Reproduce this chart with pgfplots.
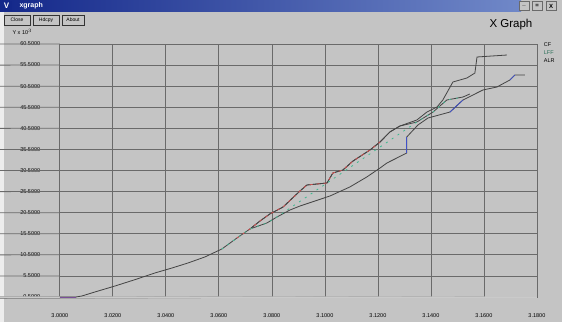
\documentclass[border=0pt]{standalone}
\usepackage{fontspec}
\setmainfont{Liberation Sans}
\usepackage{pgfplots}
\pgfplotsset{compat=1.18}
\definecolor{bg}{HTML}{C4C4C4}
\definecolor{gridc}{HTML}{6A6A6A}
\definecolor{linec}{HTML}{444444}
\definecolor{tbdark}{HTML}{14288A}
\definecolor{tblight}{HTML}{7088C8}
\definecolor{cfred}{HTML}{D05050}
\definecolor{lffgreen}{HTML}{40B890}
\definecolor{alrblue}{HTML}{4050C8}
\begin{document}
\begin{tikzpicture}[x=1pt,y=1pt]
\path[use as bounding box] (0,0) rectangle (562,322);
\fill[bg] (0,0) rectangle (562,322);
\fill[white!70!bg] (0,0) rectangle (4,311);
% title bar
\shade[left color=tbdark, right color=tblight] (0,310) rectangle (521,322);
\fill[tbdark] (1,311) rectangle (12,321);
\node[white, font=\fontsize{8}{8}\selectfont\bfseries] at (6.5,316) {V};
\node[white, font=\fontsize{7}{8}\selectfont\bfseries, anchor=west] at (16,316) {xgraph};
\foreach \bx/\bt in {524/\_, 537/=, 551/X}{
  \draw[gridc, fill=bg] (\bx-5,311.5) rectangle (\bx+5,320.5);
  \node[black, font=\fontsize{6}{6}\selectfont\bfseries] at (\bx,316) {\bt};
}
% buttons
\foreach \xa/\xb/\bt in {4/30/Close, 33/59/Hdcpy, 62/84/About}{
  \draw[black!80, line width=0.8pt, fill=bg] (\xa,297) rectangle (\xb,307);
  \node[black, font=\fontsize{5}{6}\selectfont] at ({(\xa+\xb)/2},302) {\bt};
}
\node[black, font=\fontsize{5.5}{6}\selectfont, anchor=west] at (9,290) {Y x 10$^{3}$};
\node[black, font=\fontsize{11.5}{12}\selectfont, anchor=west] at (486,297) {X Graph};
\begin{axis}[
  at={(60pt,25pt)}, anchor=south west,
  scale only axis, width=477pt, height=253pt,
  xmin=3, xmax=3.18, ymin=0.5, ymax=60.5,
  xtick={3.00,3.02,3.04,3.06,3.08,3.10,3.12,3.14,3.16,3.18},
  ytick={0.5,5.5,10.5,15.5,20.5,25.5,30.5,35.5,40.5,45.5,50.5,55.5,60.5},
  grid=major, major grid style={gridc, line width=0.8pt},
  axis line style={gridc, line width=0.8pt},
  major tick length=0pt,
  tick label style={font=\fontsize{5.5}{6}\selectfont, black},
  /pgf/number format/.cd, fixed, fixed zerofill, precision=4, assume math mode=true, /pgfplots/.cd,
  yticklabel style={xshift=-19pt, inner sep=0.5pt},
  xticklabel style={yshift=-13pt},
  clip=false,
  legend style={draw=none, fill=none, at={(1.01,1.015)}, anchor=north west,
    font=\fontsize{5.5}{6}\selectfont, row sep=-1.2pt, inner sep=0pt},
  legend cell align=left,
  legend image code/.code={},
]
\pgfplotsinvokeforeach{0.5,5.5,10.5,15.5,20.5,25.5,30.5,35.5,40.5,45.5,50.5,55.5,60.5}{
  \draw[gridc, line width=0.8pt] (axis cs:3,#1) -- ++(-18pt,0);
}
\pgfplotsinvokeforeach{3.00,3.02,3.04,3.06,3.08,3.10,3.12,3.14,3.16,3.18}{
  \draw[gridc, line width=0.8pt] (axis cs:#1,0.5) -- ++(0,-12pt);
}
\draw[white, line width=1pt] (axis cs:3,0.5) ++(-58pt,0) -- (axis cs:3.18,0.5);
% CF (upper)
\addplot[linec, line width=0.8pt, sharp plot] coordinates {
(3.0000,0.5)(3.0060,0.5)(3.0083,0.74)(3.0132,1.69)(3.0208,3.11)(3.0291,4.77)
(3.0358,6.19)(3.0423,7.38)(3.0483,8.56)(3.0547,9.99)(3.0611,11.88)(3.0668,14.49)
(3.0717,16.63)(3.0755,18.52)(3.0792,20.18)(3.0842,21.84)(3.0906,25.64)(3.0932,27.06)
(3.1008,27.54)(3.1030,29.91)(3.1068,30.62)(3.1106,32.75)(3.1170,35.36)(3.1208,37.26)
(3.1245,39.63)(3.1283,41.05)(3.1347,42.48)(3.1385,44.37)(3.1423,45.56)(3.1445,47.22)
(3.1483,51.49)(3.1536,52.44)(3.1566,53.62)(3.1574,57.42)(3.1687,57.89)};
\addlegendentry{CF}
% LFF (middle)
\addplot[linec, line width=0.8pt, sharp plot] coordinates {
(3.0717,16.63)(3.0755,18.52)(3.0792,20.18)(3.0842,21.84)(3.0906,25.64)(3.0932,27.06)
(3.1008,27.54)(3.1030,29.91)(3.1068,30.62)(3.1106,32.75)(3.1170,35.36)(3.1208,37.26)
(3.1245,39.63)(3.1283,41.05)(3.1347,42.0)(3.1408,44.37)(3.1460,47.22)(3.1521,47.93)(3.1547,48.64)};
\addlegendentry{\textcolor{lffgreen!60!black}{LFF}}
% ALR (lower)
\addplot[linec, line width=0.8pt, sharp plot] coordinates {
(3.0717,16.63)(3.0781,18.05)(3.0819,19.47)(3.0868,21.13)(3.0906,22.08)(3.1019,24.45)
(3.1094,26.59)(3.1158,28.96)(3.1208,31.09)(3.1234,32.28)(3.1309,34.65)(3.1309,38.45)
(3.1351,41.29)(3.1389,42.95)(3.1472,44.37)(3.1521,47.22)(3.1596,49.59)(3.1649,50.30)
(3.1698,51.96)(3.1717,53.15)(3.1755,53.15)};
\addlegendentry{ALR}
% coloured traces lying on the grey ones
\addplot[forget plot, cfred, line width=0.8pt, dash pattern=on 3pt off 4pt] coordinates {
(3.0668,14.49)(3.0717,16.63)(3.0755,18.52)(3.0792,20.18)(3.0842,21.84)(3.0906,25.64)
(3.0932,27.06)(3.1008,27.54)(3.1030,29.91)(3.1068,30.62)(3.1106,32.75)(3.1170,35.36)(3.1208,37.26)};
\addplot[forget plot, lffgreen, line width=0.8pt, dash pattern=on 2pt off 5pt] coordinates {
(3.0611,11.88)(3.0668,14.49)(3.0717,16.63)(3.0781,18.05)(3.0819,19.47)
(3.1347,42.0)(3.1408,44.37)(3.1460,47.22)(3.1521,47.93)};
\addplot[forget plot, alrblue, line width=0.8pt] coordinates {
(3.1309,34.65)(3.1309,38.45)};
\addplot[forget plot, alrblue, line width=0.8pt] coordinates {
(3.1472,44.37)(3.1521,47.22)};
\addplot[forget plot, alrblue, line width=0.8pt] coordinates {
(3.1698,51.96)(3.1717,53.15)};
\addplot[forget plot, alrblue!60!cfred, line width=0.8pt] coordinates {
(3.0000,0.5)(3.0060,0.5)};
\end{axis}
\end{tikzpicture}
\end{document}
